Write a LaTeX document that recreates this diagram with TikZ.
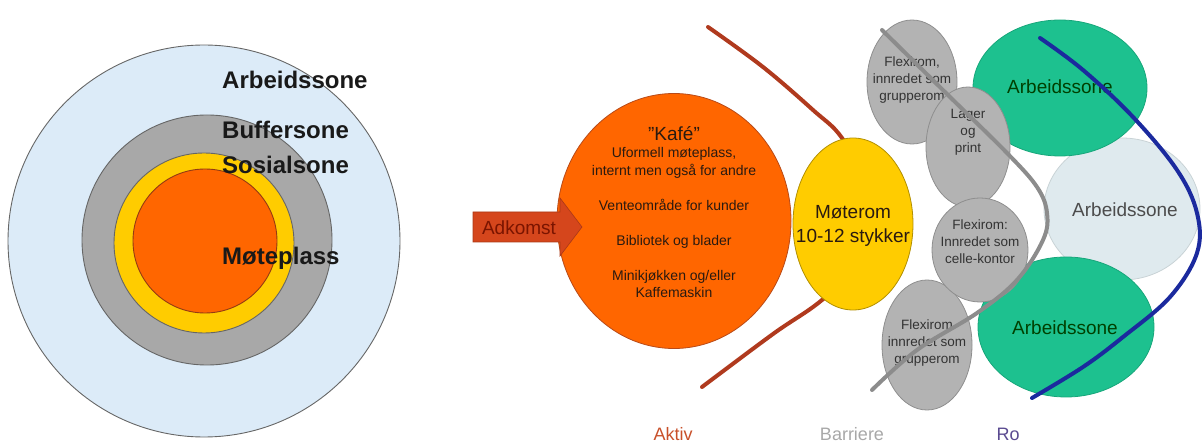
\documentclass[tikz,border=0pt]{standalone}
\usepackage{fontspec}
\setmainfont{Liberation Sans}
\usetikzlibrary{shapes.geometric}
\definecolor{lblue}{HTML}{DCEBF8}
\definecolor{ringgray}{HTML}{A8A8A8}
\definecolor{yel}{HTML}{FFCC00}
\definecolor{orng}{HTML}{FF6600}
\definecolor{kafeborder}{HTML}{B84A18}
\definecolor{gry}{HTML}{B3B3B3}
\definecolor{gryborder}{HTML}{8E8E8E}
\definecolor{grn}{HTML}{1DC18F}
\definecolor{grnborder}{HTML}{17A67A}
\definecolor{lightell}{HTML}{DFEAEE}
\definecolor{redline}{HTML}{B03A1E}
\definecolor{grayline}{HTML}{8C8C8C}
\definecolor{blueline}{HTML}{1B2A9E}
\definecolor{arrowfill}{HTML}{D5461C}
\definecolor{arrowtext}{HTML}{7A1400}
\definecolor{darktext}{HTML}{2A1A10}
\definecolor{aktivc}{HTML}{C8502A}
\definecolor{barc}{HTML}{A8A8A8}
\definecolor{roc}{HTML}{5A4A90}
\tikzset{
  ring/.style={circle, draw=gray!80!black, line width=0.9pt, inner sep=0pt},
  zonelabel/.style={anchor=west, font=\fontsize{24}{28}\selectfont\bfseries, text=black!90, inner sep=0pt},
  ell/.style={ellipse, inner sep=0pt, line width=0.8pt},
  grayell/.style={ell, fill=gry, draw=gryborder},
  greenell/.style={ell, fill=grn, draw=grnborder},
  smalltxt/.style={align=center, font=\fontsize{13.5}{17}\selectfont, text=black!80, inner sep=0pt},
  bigtxt/.style={align=center, font=\fontsize{19}{24}\selectfont, inner sep=0pt},
  curve/.style={line width=4pt, line cap=round},
  legend/.style={anchor=base, font=\fontsize{18}{22}\selectfont, inner sep=0pt}
}
\begin{document}
\begin{tikzpicture}[x=1pt, y=-1pt]
\useasboundingbox (0,0) rectangle (1203,446);
% ---- left: concentric zones
\node[ring, fill=lblue, minimum size=392pt] (outer) at (204,241) {};
\node[ring, fill=ringgray, minimum size=250pt] (buffer) at (207,240) {};
\node[ring, fill=yel, draw=black!60, minimum size=180pt] (sosial) at (204,243) {};
\node[ring, fill=orng, draw=kafeborder!80!black, minimum size=144pt] (mote) at (205,241) {};
\node[zonelabel] (larb) at (222,80) {Arbeidssone};
\node[zonelabel] (lbuf) at (222,130) {Buffersone};
\node[zonelabel] (lsos) at (222,165) {Sosialsone};
\node[zonelabel] (lmot) at (222,258) {Møteplass};
% ---- right: active line (behind)
\draw[curve, redline] plot[smooth, tension=0.6] coordinates {(708,27) (763,67) (813,110) (842,138) (870,190) (868,255) (822,300) (773,334) (702,387)};
% ---- Kafe
\node[ell, fill=orng, draw=kafeborder, minimum width=234pt, minimum height=255pt] (kafe) at (674,221) {};
\node[align=center, font=\fontsize{14}{17.5}\selectfont, text=darktext, inner sep=0pt] (kafetxt) at (674,212)
  {{\fontsize{19}{20}\selectfont "Kafé"}\\ Uformell møteplass,\\ internt men også for andre\\[17.5pt]
   Venteområde for kunder\\[17.5pt] Bibliotek og blader\\[17.5pt] Minikjøkken og/eller\\ Kaffemaskin};
% ---- Adkomst arrow
\draw[fill=arrowfill, draw=arrowfill!80!black, line width=0.6pt]
  (473,212) -- (560,212) -- (560,198) -- (582,227) -- (560,256) -- (560,242) -- (473,242) -- cycle;
\node[bigtxt, text=arrowtext] (adk) at (519,228) {Adkomst};
% ---- Moterom
\node[ell, fill=yel, draw=yel!70!black, minimum width=120pt, minimum height=172pt] (moterom) at (853,224) {};
\node[bigtxt, text=darktext] (motetxt) at (853,226) {Møterom\\10-12 stykker};
% ---- Ro side
\node[ell, fill=lightell, draw=lightell!90!black, minimum width=156pt, minimum height=142pt] (arbmid) at (1122,209) {};
\node[bigtxt, text=black!70] (arbmidtxt) at (1125,210) {Arbeidssone};
\node[greenell, minimum width=174pt, minimum height=136pt] (arbtop) at (1060,88) {};
\node[bigtxt, text=black!75!green] (arbtoptxt) at (1060,87) {Arbeidssone};
\node[greenell, minimum width=176pt, minimum height=140pt] (arbbot) at (1066,327) {};
\node[bigtxt, text=black!75!green] (arbbottxt) at (1065,328) {Arbeidssone};
% ---- barrier rooms
\node[grayell, minimum width=90pt, minimum height=124pt] (flex1) at (912,82) {};
\node[smalltxt] (flex1txt) at (912,80) {Flexirom,\\innredet som\\grupperom};
\node[grayell, minimum width=84pt, minimum height=120pt] (lager) at (968,147) {};
\node[smalltxt] (lagertxt) at (968,132) {Lager\\og\\print};
\node[grayell, minimum width=90pt, minimum height=130pt] (flex3) at (927,345) {};
\node[smalltxt] (flex3txt) at (927,343) {Flexirom\\innredet som\\grupperom};
\node[grayell, minimum width=96pt, minimum height=104pt] (flex2) at (980,250) {};
\node[smalltxt] (flex2txt) at (980,242) {Flexirom:\\Innredet som\\celle-kontor};
% ---- barrier and quiet lines
\draw[curve, grayline] plot[smooth, tension=0.6] coordinates {(882,30) (950,97) (1007,153) (1037,187) (1047,213) (1043,240) (1017,280) (977,313) (917,350) (872,390)};
\draw[curve, blueline] plot[smooth, tension=0.6] coordinates {(1040,38) (1083,70) (1133,117) (1177,170) (1197,213) (1197,253) (1170,297) (1123,337) (1083,367) (1032,398)};
% ---- legend
\node[legend, text=aktivc] (aktiv) at (673,441) {Aktiv};
\node[legend, text=barc] (barriere) at (852,441) {Barriere};
\node[legend, text=roc] (ro) at (1008,441) {Ro};
\end{tikzpicture}
\end{document}
